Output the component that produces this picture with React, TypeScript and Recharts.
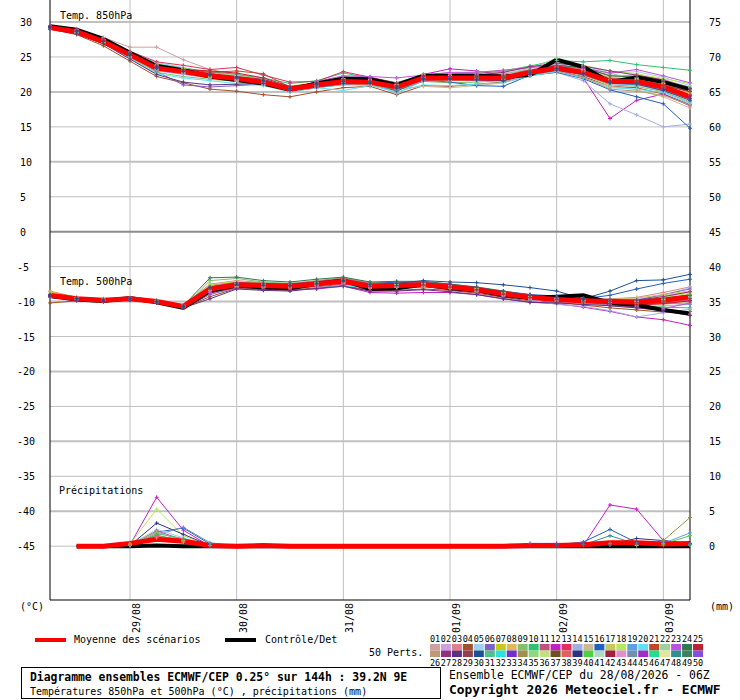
// Ensemble diagram (ECMWF/CEP) – T850, T500 and precipitation on one shared scale
import React from 'react';
import { LineChart, Line, XAxis, YAxis, ReferenceLine } from 'recharts';

const MONO = '"DejaVu Sans Mono", "Liberation Mono", monospace';

// time steps (hours from 28/08 06Z)
const hours = [0, 6, 12, 18, 24, 30, 36, 42, 48, 54, 60, 66, 72, 78, 84, 90, 96, 102, 108, 114, 120, 126, 132, 138, 144];
const dateTicks = [18, 42, 66, 90, 114, 138];
const dateLabels = ['29/08', '30/08', '31/08', '01/09', '02/09', '03/09'];
const leftTicks = [30, 25, 20, 15, 10, 5, 0, -5, -10, -15, -20, -25, -30, -35, -40, -45];
const rightTicks = [75, 70, 65, 60, 55, 50, 45, 40, 35, 30, 25, 20, 15, 10, 5, 0];
const RIGHT_SHIFT = 45; // right scale = left scale + 45
const PRECIP_BASE = -45; // 0 mm sits on the -45 line

const memberColors = [
  '#d0a0a0', '#d0a0e0', '#e08088', '#a0502c', '#a0d0f0', '#8060c0', '#c8c81c', '#e0b860', '#80c070', '#30c070',
  '#c05080', '#c020c0', '#e03060', '#a0b0e0', '#d0b890', '#2060c0', '#c8c860', '#b8e860', '#60a0e0', '#60e0f0',
  '#c04828', '#a0d0a0', '#c050e0', '#307850', '#c02030', '#c09878', '#903080', '#603080', '#904050', '#205090',
  '#50c090', '#30e0e0', '#7030d0', '#a09050', '#90d880', '#c0e080', '#705020', '#e06060', '#303080', '#50d040',
  '#b0d8c8', '#a02040', '#e090d0', '#7090b0', '#a030c0', '#20e090', '#e0e8a0', '#309090', '#408060', '#8050e0',
];

// ---- 850 hPa ----
const t850Mean = [29.2, 28.6, 27.2, 25.3, 23.4, 22.9, 22.3, 21.9, 21.4, 20.4, 21.0, 21.5, 21.4, 20.7, 22.0, 22.0, 22.0, 22.0, 22.8, 23.4, 22.8, 21.5, 21.5, 20.7, 19.3];
const t850Ctrl = [29.4, 28.9, 27.6, 25.6, 23.7, 23.1, 22.2, 21.7, 21.2, 20.3, 21.2, 21.9, 21.8, 21.0, 22.3, 22.3, 22.3, 22.2, 22.4, 24.6, 23.6, 21.4, 22.1, 21.4, 20.4];
const t850Perts: number[][] = [
  [29.4, 28.9, 27.8, 26.4, 26.4, 24.6, 23.2, 22.5, 21.8, 20.6, 21.4, 21.9, 21.8, 21.0, 22.3, 22.4, 22.6, 22.9, 23.5, 23.9, 23.4, 22.4, 22.0, 21.2, 20.1],
  [29.1, 28.4, 27.0, 25.0, 23.0, 22.5, 22.0, 21.6, 21.0, 20.1, 20.7, 21.2, 21.0, 20.3, 21.7, 21.8, 21.9, 22.3, 23.0, 23.7, 23.1, 21.2, 21.0, 20.1, 18.4],
  [29.3, 28.8, 27.5, 25.6, 23.9, 23.3, 22.8, 22.3, 21.7, 20.5, 21.3, 21.7, 21.6, 20.9, 22.2, 22.3, 22.5, 22.6, 23.2, 23.8, 23.4, 22.3, 22.4, 21.8, 20.6],
  [29.0, 28.2, 26.6, 24.4, 22.2, 21.3, 20.4, 20.1, 19.6, 19.3, 20.0, 20.6, 20.8, 19.6, 20.9, 20.8, 21.1, 21.4, 22.3, 22.9, 22.2, 20.8, 20.6, 19.7, 18.2],
  [29.3, 28.7, 27.4, 25.5, 24.2, 23.5, 22.6, 22.1, 21.6, 20.7, 21.2, 21.6, 21.6, 20.9, 22.1, 22.2, 22.2, 22.6, 23.4, 24.0, 23.8, 22.7, 22.9, 22.1, 20.9],
  [29.4, 28.8, 27.3, 25.2, 22.9, 21.0, 20.7, 20.9, 21.1, 20.3, 20.9, 21.7, 21.5, 20.6, 21.9, 22.0, 22.1, 22.2, 22.9, 23.5, 22.6, 21.3, 21.2, 20.2, 19.0],
  [29.1, 28.5, 27.1, 25.4, 23.6, 23.1, 22.5, 22.2, 21.6, 20.5, 21.2, 21.3, 21.2, 20.5, 21.9, 21.9, 21.8, 21.8, 22.6, 23.3, 22.9, 21.8, 21.6, 21.2, 19.8],
  [29.2, 28.6, 27.2, 25.1, 23.2, 22.7, 22.4, 22.1, 21.5, 20.3, 20.8, 21.4, 21.4, 20.8, 22.1, 22.1, 22.0, 22.2, 23.0, 23.6, 23.0, 21.6, 21.9, 21.3, 20.2],
  [29.0, 28.4, 26.9, 24.9, 22.8, 22.2, 21.8, 21.5, 21.0, 20.0, 20.6, 21.0, 21.0, 20.4, 21.5, 21.3, 21.4, 21.6, 22.5, 23.1, 22.4, 21.0, 20.8, 20.0, 18.6],
  [29.3, 28.7, 27.4, 25.7, 24.0, 23.4, 22.9, 22.5, 22.0, 21.2, 21.6, 22.7, 22.0, 21.3, 22.5, 22.6, 22.7, 23.0, 23.7, 24.5, 24.3, 24.5, 23.9, 23.5, 23.1],
  [29.2, 28.5, 27.0, 25.2, 23.3, 22.9, 22.4, 21.8, 21.3, 20.2, 20.8, 21.5, 21.3, 20.6, 21.9, 21.9, 22.1, 22.0, 22.7, 23.4, 22.7, 21.4, 21.3, 20.5, 19.5],
  [29.2, 28.7, 27.3, 25.3, 23.5, 23.0, 22.2, 21.8, 21.2, 20.4, 21.2, 21.7, 21.6, 20.7, 22.5, 23.3, 23.0, 22.4, 23.0, 23.2, 22.0, 16.2, 18.8, 19.7, 18.0],
  [29.5, 29.0, 27.6, 25.8, 24.3, 23.8, 23.2, 23.5, 22.4, 21.4, 21.5, 22.9, 22.1, 21.3, 22.4, 22.5, 22.3, 22.5, 23.1, 23.6, 23.3, 22.0, 21.7, 21.0, 20.0],
  [29.1, 28.5, 27.1, 25.1, 23.3, 22.6, 22.1, 21.7, 21.3, 20.3, 20.9, 21.3, 21.3, 19.8, 21.6, 21.6, 21.6, 21.7, 22.4, 22.8, 21.6, 18.3, 16.7, 15.0, 15.4],
  [29.2, 28.6, 27.1, 25.2, 23.3, 22.7, 22.2, 21.6, 21.0, 20.3, 20.9, 21.4, 21.3, 20.4, 20.8, 20.6, 20.9, 21.3, 22.4, 23.0, 22.0, 20.8, 20.3, 19.3, 17.7],
  [29.3, 28.6, 27.3, 25.4, 23.5, 23.0, 22.3, 22.0, 21.4, 20.3, 21.0, 21.3, 21.2, 20.3, 21.7, 21.4, 20.9, 20.8, 22.4, 22.8, 21.9, 20.3, 19.3, 18.3, 14.8],
  [29.2, 28.7, 27.4, 25.5, 23.6, 23.2, 22.6, 22.1, 21.7, 20.6, 21.2, 21.8, 21.7, 21.0, 22.2, 22.3, 22.3, 22.4, 23.0, 23.5, 23.2, 22.1, 21.8, 20.8, 19.8],
  [29.4, 28.8, 27.5, 25.6, 23.8, 23.4, 22.6, 22.3, 21.8, 20.8, 21.4, 21.9, 21.7, 21.1, 22.5, 22.7, 22.8, 23.1, 23.5, 24.1, 23.8, 23.0, 22.6, 21.9, 21.2],
  [29.0, 28.4, 27.0, 25.0, 23.1, 22.6, 22.0, 21.7, 21.1, 20.1, 20.6, 21.1, 21.0, 20.2, 21.5, 21.7, 21.7, 21.8, 22.6, 23.2, 22.4, 21.2, 21.0, 20.6, 19.1],
  [29.1, 28.5, 27.0, 24.8, 22.6, 22.0, 21.6, 21.2, 20.9, 20.0, 20.6, 20.2, 20.9, 20.0, 21.0, 20.9, 21.1, 21.3, 22.3, 22.9, 22.0, 20.6, 20.4, 19.9, 18.3],
  [29.3, 28.8, 27.5, 25.5, 23.7, 23.2, 22.8, 23.0, 22.6, 20.7, 21.3, 21.8, 21.7, 21.0, 22.3, 22.2, 22.3, 22.2, 23.0, 23.5, 23.0, 21.9, 21.6, 20.9, 19.6],
  [29.2, 28.6, 27.2, 25.3, 23.3, 22.8, 22.2, 21.8, 21.4, 20.5, 21.1, 21.6, 21.8, 21.0, 22.0, 22.1, 22.2, 22.4, 23.4, 24.8, 23.6, 22.6, 22.0, 21.6, 20.7],
  [29.5, 28.9, 27.5, 25.5, 23.6, 23.0, 22.5, 21.9, 21.3, 20.4, 21.5, 22.3, 22.2, 22.0, 22.4, 22.8, 22.8, 23.1, 23.5, 23.8, 23.4, 22.7, 23.2, 22.3, 21.3],
  [29.2, 28.6, 27.2, 25.4, 23.4, 22.9, 22.3, 22.0, 21.6, 20.6, 21.1, 21.5, 21.4, 20.1, 21.8, 22.0, 22.2, 22.2, 23.0, 23.8, 23.5, 22.3, 22.1, 21.5, 20.5],
  [29.3, 28.7, 27.3, 25.5, 23.6, 23.2, 23.0, 22.7, 22.0, 20.8, 21.2, 21.7, 21.5, 20.9, 22.2, 22.2, 22.1, 22.3, 22.9, 23.4, 22.8, 21.6, 21.6, 20.7, 19.4],
  [29.1, 28.4, 27.0, 25.0, 23.2, 22.7, 22.0, 21.5, 21.0, 20.2, 20.8, 21.2, 21.0, 20.4, 21.6, 21.6, 21.8, 21.9, 22.6, 23.0, 22.1, 20.4, 20.1, 19.5, 18.1],
  [29.4, 28.8, 27.4, 25.6, 23.7, 23.2, 22.6, 22.2, 21.8, 20.7, 21.3, 21.8, 21.9, 21.2, 22.3, 22.2, 22.4, 22.8, 23.6, 24.1, 23.7, 23.0, 22.4, 21.7, 20.4],
  [29.0, 28.3, 26.9, 24.7, 22.5, 21.4, 21.0, 21.1, 21.2, 20.2, 20.7, 21.2, 21.2, 20.5, 21.7, 21.8, 21.7, 21.6, 22.5, 23.1, 22.5, 21.4, 21.3, 20.4, 19.1],
  [29.2, 28.7, 27.3, 25.2, 23.5, 23.0, 22.4, 22.0, 21.5, 20.4, 21.0, 21.6, 21.5, 20.8, 22.0, 22.0, 22.0, 21.9, 22.8, 23.3, 22.7, 21.4, 21.4, 20.9, 20.1],
  [29.3, 28.6, 27.2, 25.3, 23.4, 22.9, 22.5, 22.1, 21.6, 20.5, 21.1, 21.5, 21.4, 20.7, 21.9, 21.9, 21.8, 21.6, 22.7, 23.3, 22.6, 21.3, 21.1, 20.2, 18.8],
];

// ---- 500 hPa ----
const t500Mean = [-9.1, -9.6, -9.8, -9.6, -10.0, -10.7, -8.2, -7.6, -7.7, -7.8, -7.5, -7.1, -7.8, -7.7, -7.6, -7.9, -8.3, -8.9, -9.4, -9.7, -9.9, -10.0, -10.1, -9.8, -9.3];
const t500Ctrl = [-9.2, -9.7, -9.9, -9.5, -10.1, -10.9, -8.5, -7.7, -8.0, -8.1, -7.5, -7.0, -8.2, -8.1, -7.6, -8.1, -8.4, -9.1, -9.5, -9.3, -9.1, -10.2, -10.5, -11.2, -11.7];
const t500Perts: number[][] = [
  [-9.0, -9.5, -9.7, -9.4, -9.9, -10.6, -7.8, -7.3, -7.5, -7.6, -7.3, -6.9, -7.6, -7.5, -7.4, -7.7, -8.0, -8.6, -9.1, -9.5, -9.6, -9.7, -9.6, -9.2, -8.6],
  [-9.3, -9.7, -9.9, -9.7, -10.1, -10.8, -8.5, -7.9, -8.0, -8.0, -7.8, -7.4, -8.1, -8.0, -7.8, -8.1, -8.6, -9.2, -9.7, -10.0, -10.3, -10.5, -10.7, -10.6, -10.4],
  [-8.5, -9.4, -9.6, -9.5, -9.8, -10.5, -7.5, -7.0, -7.3, -7.5, -7.2, -6.8, -7.5, -7.3, -7.3, -7.6, -8.0, -8.7, -9.3, -9.6, -9.7, -9.6, -9.4, -8.7, -7.9],
  [-10.2, -9.9, -10.0, -9.8, -10.2, -10.9, -9.3, -8.1, -8.3, -8.4, -8.0, -7.7, -8.4, -8.4, -8.2, -8.4, -8.8, -9.4, -9.9, -10.1, -10.5, -10.9, -11.2, -11.5, -11.4],
  [-9.1, -9.6, -9.8, -9.6, -10.0, -10.6, -7.9, -7.4, -7.5, -7.7, -7.4, -7.0, -7.7, -7.6, -7.5, -7.8, -8.2, -8.8, -9.3, -9.6, -9.9, -9.8, -9.6, -9.1, -8.0],
  [-9.4, -9.8, -10.0, -9.7, -10.2, -10.9, -9.0, -8.0, -7.8, -7.4, -7.2, -7.3, -7.7, -7.4, -7.6, -8.0, -8.5, -9.1, -9.6, -9.8, -10.1, -10.0, -9.8, -9.0, -8.2],
  [-8.6, -9.4, -9.7, -9.5, -9.9, -10.6, -7.6, -7.2, -7.6, -7.8, -7.5, -7.0, -7.6, -7.5, -7.4, -7.7, -8.1, -8.7, -9.2, -9.6, -9.7, -9.8, -10.0, -9.6, -9.0],
  [-9.1, -9.5, -9.8, -9.6, -10.0, -10.7, -8.1, -7.5, -7.6, -7.8, -7.5, -7.1, -7.8, -7.7, -7.6, -7.9, -8.3, -8.9, -9.4, -9.7, -9.9, -10.1, -10.2, -10.0, -9.6],
  [-9.2, -9.6, -9.9, -9.7, -10.1, -10.8, -7.0, -6.7, -7.2, -7.4, -7.0, -6.6, -7.3, -7.2, -7.2, -7.6, -8.0, -8.6, -9.2, -9.5, -9.8, -9.9, -9.9, -9.6, -9.2],
  [-9.0, -9.5, -9.7, -9.5, -10.0, -10.6, -8.0, -7.4, -7.5, -7.7, -7.3, -6.9, -7.6, -7.5, -7.5, -7.8, -8.2, -8.8, -9.3, -9.7, -10.0, -10.3, -10.6, -10.8, -10.9],
  [-9.3, -9.7, -9.9, -9.7, -10.1, -10.8, -8.8, -8.0, -8.1, -8.1, -7.9, -7.5, -8.0, -7.9, -7.8, -8.1, -8.5, -9.1, -9.6, -9.9, -10.2, -10.4, -10.3, -10.0, -9.8],
  [-9.2, -9.7, -9.9, -9.7, -10.1, -10.8, -8.6, -7.9, -8.0, -8.3, -8.2, -7.8, -8.7, -8.8, -8.7, -8.7, -9.0, -9.6, -10.1, -10.3, -10.8, -11.4, -12.2, -12.6, -13.4],
  [-9.0, -9.5, -9.7, -9.5, -9.9, -10.5, -7.7, -7.2, -7.4, -7.5, -7.1, -6.7, -7.4, -7.3, -7.2, -7.5, -8.0, -8.6, -9.0, -9.5, -9.7, -9.9, -10.1, -9.9, -9.5],
  [-9.1, -9.6, -9.8, -9.6, -10.0, -10.7, -8.3, -7.8, -7.9, -8.0, -7.7, -7.3, -8.0, -7.9, -7.8, -8.1, -8.6, -9.2, -9.8, -10.4, -10.7, -11.3, -12.2, -11.6, -11.1],
  [-9.2, -9.7, -9.9, -9.7, -10.1, -10.8, -8.4, -7.8, -7.9, -8.0, -7.7, -7.3, -8.0, -7.9, -7.8, -8.0, -8.4, -9.0, -9.5, -9.8, -10.1, -10.3, -10.5, -10.4, -10.1],
  [-9.1, -9.6, -9.8, -9.6, -10.0, -10.7, -8.0, -7.6, -7.7, -7.8, -7.4, -7.0, -7.5, -7.2, -7.3, -7.6, -8.0, -8.5, -9.0, -9.2, -9.6, -9.1, -8.2, -7.4, -6.8],
  [-8.9, -9.5, -9.7, -9.5, -9.9, -10.6, -7.8, -7.3, -7.5, -7.6, -7.3, -6.9, -7.6, -7.4, -7.3, -7.6, -8.1, -8.7, -9.2, -9.6, -9.8, -9.7, -9.5, -9.0, -8.5],
  [-9.1, -9.6, -9.8, -9.6, -10.0, -10.7, -7.6, -7.1, -7.4, -7.6, -7.3, -6.8, -7.5, -7.4, -7.4, -7.7, -8.1, -8.7, -9.3, -9.7, -9.9, -10.0, -9.9, -9.4, -8.8],
  [-9.3, -9.7, -9.9, -9.6, -10.1, -10.7, -8.2, -7.7, -7.8, -7.9, -7.6, -7.2, -7.9, -7.8, -7.7, -8.0, -8.4, -9.0, -9.5, -9.8, -10.0, -10.2, -10.3, -10.2, -10.4],
  [-9.0, -9.5, -9.8, -9.6, -10.0, -10.6, -7.8, -7.4, -7.6, -7.9, -8.0, -7.8, -7.9, -7.6, -7.5, -7.8, -8.3, -8.9, -9.4, -9.6, -9.8, -9.9, -10.0, -9.7, -9.3],
  [-9.2, -9.6, -9.8, -9.6, -10.1, -10.7, -8.2, -7.6, -7.7, -7.8, -7.5, -7.1, -7.8, -7.7, -7.6, -7.9, -8.3, -8.9, -9.4, -9.8, -10.1, -10.3, -10.4, -10.2, -9.9],
  [-9.1, -9.6, -9.8, -9.6, -10.0, -10.7, -7.9, -7.4, -7.6, -7.7, -7.4, -7.0, -7.7, -7.6, -7.5, -7.8, -8.2, -8.8, -9.3, -9.6, -9.8, -9.9, -10.0, -9.8, -9.5],
  [-9.2, -9.7, -9.9, -9.7, -10.1, -10.8, -8.7, -8.0, -8.0, -7.9, -7.6, -7.2, -7.9, -7.8, -7.7, -8.0, -8.4, -9.0, -9.5, -9.9, -10.2, -10.5, -10.8, -11.0, -10.2],
  [-9.0, -9.5, -9.7, -9.5, -9.9, -10.6, -6.6, -6.5, -7.0, -7.2, -6.8, -6.5, -7.2, -7.1, -7.1, -7.5, -7.9, -8.5, -9.1, -9.4, -9.6, -9.7, -9.8, -9.5, -9.1],
  [-9.2, -9.6, -9.9, -9.7, -10.1, -10.8, -8.2, -7.7, -7.8, -7.9, -7.6, -7.2, -7.9, -7.8, -7.7, -8.0, -8.4, -9.0, -9.5, -9.8, -10.1, -10.3, -10.5, -10.3, -9.9],
  [-9.3, -9.7, -9.9, -9.7, -10.1, -10.8, -8.4, -7.9, -7.9, -7.9, -7.6, -7.3, -8.0, -7.9, -7.8, -8.1, -8.5, -9.1, -9.6, -9.9, -10.2, -10.6, -10.9, -11.2, -11.8],
  [-9.0, -9.5, -9.8, -9.5, -10.0, -10.6, -7.9, -7.3, -7.4, -7.5, -7.2, -6.8, -7.5, -7.4, -7.3, -7.6, -8.0, -8.6, -9.1, -9.5, -9.7, -9.8, -9.8, -9.3, -8.6],
  [-9.3, -9.8, -10.0, -9.8, -10.2, -10.9, -9.6, -8.2, -8.4, -8.5, -8.1, -7.8, -8.5, -8.5, -8.3, -8.6, -9.0, -9.6, -10.1, -10.2, -10.4, -10.6, -10.9, -11.3, -12.0],
  [-9.1, -9.6, -9.8, -9.6, -10.0, -10.7, -8.1, -7.5, -7.7, -7.8, -7.5, -7.1, -7.8, -7.7, -7.6, -7.9, -8.3, -8.9, -9.4, -9.7, -9.9, -10.0, -10.1, -9.9, -9.6],
  [-9.1, -9.6, -9.8, -9.6, -10.0, -10.7, -8.0, -7.5, -7.6, -7.7, -7.4, -7.0, -7.6, -7.4, -7.0, -7.2, -7.3, -7.6, -8.0, -8.5, -9.6, -8.5, -7.0, -6.9, -6.1],
];

// ---- precipitation (mm), no value at the analysis step ----
const precipMean = [null, 0, 0, 0.4, 1.0, 0.7, 0.1, 0, 0.1, 0, 0, 0, 0, 0, 0, 0, 0, 0, 0.1, 0.1, 0.2, 0.5, 0.5, 0.3, 0.4];
const precipCtrl = [null, 0, 0, 0, 0.1, 0, 0, 0, 0, 0, 0, 0, 0, 0, 0, 0, 0, 0, 0, 0, 0, 0, 0, 0, 0];
const precipPertIds = [12, 18, 39, 16, 44, 5, 23, 7, 31, 10, 38, 3, 48, 34, 19, 40];
const precipPerts: (number | null)[][] = [
  [null, 0, 0, 0.2, 7.0, 2.3, 0, 0, 0, 0, 0, 0, 0, 0, 0, 0, 0, 0, 0.4, 0.4, 0.1, 5.9, 5.3, 0.8, 0.3],
  [null, 0, 0, 0.3, 5.3, 1.5, 0, 0, 0, 0, 0, 0, 0, 0, 0, 0, 0, 0, 0, 0, 0, 0.2, 0.1, 0, 0.2],
  [null, 0, 0, 0.1, 3.3, 1.7, 0.1, 0, 0, 0, 0, 0, 0, 0, 0, 0, 0, 0, 0, 0, 0.1, 0.3, 1.1, 0.8, 0.4],
  [null, 0, 0, 0.1, 2.0, 2.6, 0.3, 0, 0, 0, 0, 0, 0, 0, 0, 0, 0, 0, 0, 0.2, 0.6, 2.4, 0.5, 0.5, 0.4],
  [null, 0, 0, 0, 1.6, 2.7, 0.5, 0, 0, 0, 0, 0, 0, 0, 0, 0, 0, 0, 0, 0, 0, 0, 0, 0, 0.2],
  [null, 0, 0, 0.2, 2.4, 1.2, 0, 0, 0, 0, 0, 0, 0, 0, 0, 0, 0, 0, 0, 0, 0, 0, 0, 0, 0],
  [null, 0, 0, 0.1, 2.2, 0.9, 0, 0, 0, 0, 0, 0, 0, 0, 0, 0, 0, 0, 0, 0, 0, 0, 0, 0, 0],
  [null, 0, 0, 0.2, 2.0, 0.8, 0, 0, 0, 0, 0, 0, 0, 0, 0, 0, 0, 0, 0, 0, 0, 0, 0, 0, 0],
  [null, 0, 0, 0, 1.8, 1.1, 0.1, 0, 0, 0, 0, 0, 0, 0, 0, 0, 0, 0, 0, 0, 0, 0, 0, 0, 0],
  [null, 0, 0, 0.1, 1.6, 0.7, 0, 0, 0, 0, 0, 0, 0, 0, 0, 0, 0, 0, 0, 0, 0, 0, 0, 0, 0],
  [null, 0, 0, 0.2, 1.4, 1.0, 0, 0, 0, 0, 0, 0, 0, 0, 0, 0, 0, 0, 0, 0, 0, 0.4, 0, 0, 0],
  [null, 0, 0, 0, 1.2, 0.6, 0, 0, 0, 0, 0, 0, 0, 0, 0, 0, 0, 0, 0, 0, 0, 0, 0, 0, 0],
  [null, 0, 0, 0, 0, 0, 0, 0, 0, 0, 0, 0, 0, 0, 0, 0, 0, 0, 0, 0, 0.2, 1.5, 0.3, 0.1, 0.3],
  [null, 0, 0, 0, 0, 0, 0, 0, 0, 0, 0, 0, 0, 0, 0, 0, 0, 0, 0, 0, 0, 0, 0, 0.8, 4.1],
  [null, 0, 0, 0, 0, 0, 0, 0, 0, 0, 0, 0, 0, 0, 0, 0, 0, 0, 0, 0, 0, 0, 0, 0.4, 1.9],
  [null, 0, 0, 0, 0, 0, 0, 0, 0, 0, 0, 0, 0, 0, 0, 0, 0, 0, 0, 0, 0, 0, 0, 0.3, 1.5],
];

const toPrecipAxis = (v: number | null) => (v == null ? null : PRECIP_BASE + v);

const rows = hours.map((h, i) => {
  const r: Record<string, number | null> = {
    h,
    mean850: t850Mean[i],
    ctrl850: t850Ctrl[i],
    mean500: t500Mean[i],
    ctrl500: t500Ctrl[i],
    meanPr: toPrecipAxis(precipMean[i]),
    ctrlPr: toPrecipAxis(precipCtrl[i]),
  };
  t850Perts.forEach((s, k) => { r[`a${k}`] = s[i]; });
  t500Perts.forEach((s, k) => { r[`b${k}`] = s[i]; });
  precipPerts.forEach((s, k) => { r[`p${k}`] = toPrecipAxis(s[i]); });
  return r;
});

// small "+" marker at each time step; dry precipitation steps get none
const crossDot = (color: string, skipAt?: number) => (p: any) => {
  const { cx, cy, key } = p;
  if (cx == null || cy == null || p.value == null || p.value === skipAt) return <g key={key} />;
  return <path key={key} d={`M${cx - 2},${cy}h4M${cx},${cy - 2}v4`} stroke={color} strokeWidth={1} />;
};

const LeftTick = (p: any) => (
  <text x={p.payload.value < 0 ? 17 : 20} y={p.y + 4} fontSize={10} fontFamily={MONO} fill="#000">
    {p.payload.value}
  </text>
);

const RightTick = (p: any) => (
  <text x={709} y={p.y + 4} fontSize={10} fontFamily={MONO} fill="#000">
    {p.payload.value}
  </text>
);

const DateTick = (p: any) => (
  <text transform={`translate(${p.x + 10},603) rotate(-90)`} textAnchor="end" fontSize={10} fontFamily={MONO} fill="#000">
    {dateLabels[dateTicks.indexOf(p.payload.value)]}
  </text>
);

const COL0 = 430;
const COLW = 10.96;

export default function App() {
  return (
    <div style={{ position: 'absolute', left: 0, top: 0, width: 740, height: 700, background: '#fff' }}>
      <LineChart width={740} height={700} data={rows} margin={{ top: 0, right: 0, bottom: 0, left: 0 }}>
        <XAxis
          dataKey="h"
          type="number"
          domain={[0, 144]}
          ticks={dateTicks}
          height={100}
          axisLine={{ stroke: '#000' }}
          tickLine={false}
          tick={DateTick}
          interval={0}
        />
        <YAxis
          yAxisId="left"
          type="number"
          domain={[-52.7, 33.15]}
          ticks={leftTicks}
          width={50}
          allowDataOverflow
          axisLine={{ stroke: '#000' }}
          tickLine={false}
          tick={LeftTick}
          interval={0}
        />
        <YAxis
          yAxisId="right"
          orientation="right"
          type="number"
          domain={[-52.7 + RIGHT_SHIFT, 33.15 + RIGHT_SHIFT]}
          ticks={rightTicks}
          width={50}
          allowDataOverflow
          axisLine={{ stroke: '#000' }}
          tickLine={false}
          tick={RightTick}
          interval={0}
        />

        {/* grid */}
        {dateTicks.map((t) => (
          <ReferenceLine key={`v${t}`} yAxisId="left" x={t} stroke="#c0c0c0" strokeWidth={1} />
        ))}
        {leftTicks.map((t) => (
          <ReferenceLine
            key={`h${t}`}
            yAxisId="left"
            y={t}
            stroke={t === 0 ? '#8c8c8c' : '#c0c0c0'}
            strokeWidth={t % 10 === 0 ? 2 : 1}
          />
        ))}

        {/* perturbations */}
        {t850Perts.map((_, k) => (
          <Line key={`a${k}`} yAxisId="left" dataKey={`a${k}`} stroke={memberColors[k]} strokeWidth={1}
            dot={crossDot(memberColors[k])} isAnimationActive={false} />
        ))}
        {t500Perts.map((_, k) => (
          <Line key={`b${k}`} yAxisId="left" dataKey={`b${k}`} stroke={memberColors[k]} strokeWidth={1}
            dot={crossDot(memberColors[k])} isAnimationActive={false} />
        ))}
        {precipPerts.map((_, k) => (
          <Line key={`p${k}`} yAxisId="left" dataKey={`p${k}`} stroke={memberColors[precipPertIds[k] - 1]} strokeWidth={1}
            dot={crossDot(memberColors[precipPertIds[k] - 1], PRECIP_BASE)} isAnimationActive={false} />
        ))}

        {/* control / deterministic */}
        <Line yAxisId="left" dataKey="ctrl850" stroke="#000" strokeWidth={4} dot={false} isAnimationActive={false} />
        <Line yAxisId="left" dataKey="ctrl500" stroke="#000" strokeWidth={4} dot={false} isAnimationActive={false} />
        <Line yAxisId="left" dataKey="ctrlPr" stroke="#000" strokeWidth={4} dot={false} isAnimationActive={false} />

        {/* ensemble mean */}
        <Line yAxisId="left" dataKey="mean850" stroke="#ff0000" strokeWidth={5} dot={false} isAnimationActive={false} />
        <Line yAxisId="left" dataKey="mean500" stroke="#ff0000" strokeWidth={5} dot={false} isAnimationActive={false} />
        <Line yAxisId="left" dataKey="meanPr" stroke="#ff0000" strokeWidth={5} dot={false} isAnimationActive={false} />
      </LineChart>

      <svg width={740} height={700} style={{ position: 'absolute', left: 0, top: 0, pointerEvents: 'none' }}
        fontFamily={MONO} fill="#000">
        <text x={60} y={19} fontSize={10}>Temp. 850hPa</text>
        <text x={60} y={285} fontSize={10}>Temp. 500hPa</text>
        <text x={59} y={494} fontSize={10}>Précipitations</text>
        <text x={20} y={610} fontSize={10}>(°C)</text>
        <text x={710} y={610} fontSize={10}>(mm)</text>

        <line x1={35} x2={66} y1={640} y2={640} stroke="#ff0000" strokeWidth={4} />
        <text x={74} y={643} fontSize={10}>Moyenne des scénarios</text>
        <line x1={225} x2={256} y1={640} y2={640} stroke="#000" strokeWidth={4} />
        <text x={265} y={643} fontSize={10}>Contrôle/Det</text>
        <text x={369} y={656} fontSize={10}>50 Perts.</text>

        {memberColors.slice(0, 25).map((c, i) => (
          <g key={`sw${i}`}>
            <text x={COL0 + i * COLW + 5} y={642} fontSize={8.5} textAnchor="middle">{String(i + 1).padStart(2, '0')}</text>
            <rect x={COL0 + i * COLW} y={644} width={10} height={6.5} fill={c} />
            <rect x={COL0 + i * COLW} y={650.5} width={10} height={6.5} fill={memberColors[i + 25]} />
            <text x={COL0 + i * COLW + 5} y={666} fontSize={8.5} textAnchor="middle">{String(i + 26)}</text>
          </g>
        ))}

        <rect x={21.5} y={667.5} width={419} height={31} fill="none" stroke="#000" strokeWidth={1} />
        <text x={30} y={681} fontSize={11.4} fontWeight="bold">Diagramme ensembles ECMWF/CEP 0.25° sur 144h : 39.2N 9E</text>
        <text x={30} y={695} fontSize={10}>Températures 850hPa et 500hPa (°C) , précipitations (mm)</text>
        <text x={449} y={679} fontSize={11.4}>Ensemble ECMWF/CEP du 28/08/2026 - 06Z</text>
        <text x={449} y={694} fontSize={12.9} fontWeight="bold">Copyright 2026 Meteociel.fr - ECMWF</text>
      </svg>
    </div>
  );
}
